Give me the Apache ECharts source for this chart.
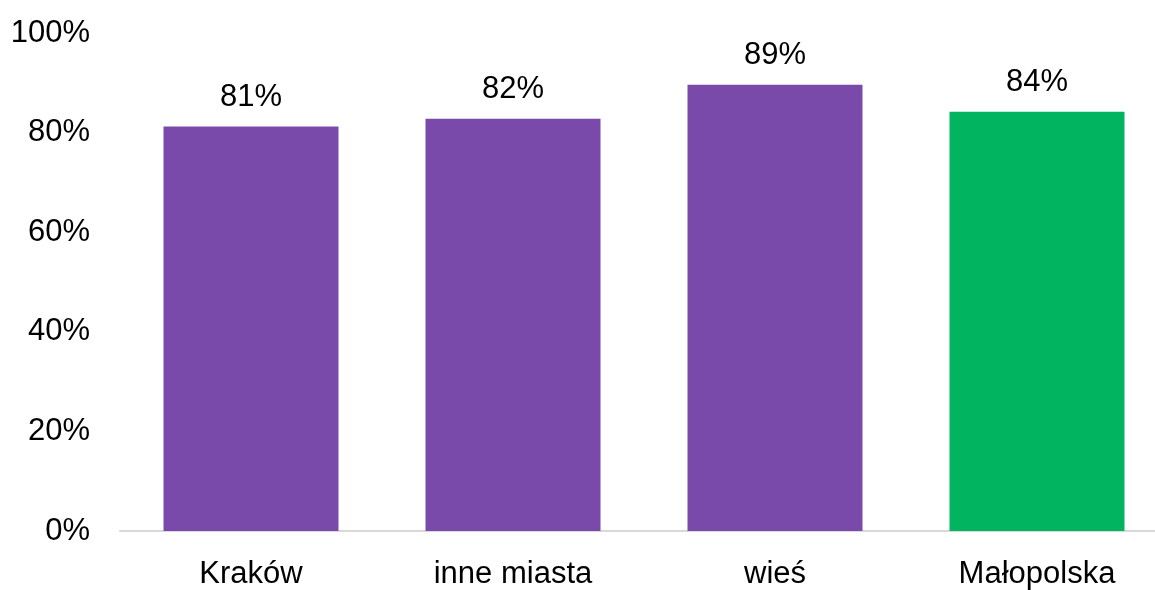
<!DOCTYPE html>
<html>
<head>
<meta charset="utf-8">
<script src="https://cdn.jsdelivr.net/npm/echarts@6/dist/echarts.min.js"></script>
<style>html,body{margin:0;padding:0;background:#fff;overflow:hidden;width:1155px;height:590px}#c{width:1168px;height:590px}</style>
</head>
<body>
<div id="c"></div>
<script>
const categories = ['Kraków', 'inne miasta', 'wieś', 'Małopolska'];
const values = [81.2, 82.8, 89.6, 84.2];
const valueLabels = ['81%', '82%', '89%', '84%'];
const barColors = ['#7A4AAA', '#7A4AAA', '#7A4AAA', '#00B460'];
const yTicks = [0, 20, 40, 60, 80, 100];

const chart = echarts.init(document.getElementById('c'), null, {renderer: 'canvas'});
const font = '"Liberation Sans", Arial, sans-serif';
chart.setOption({
  animation: false,
  backgroundColor: '#fff',
  grid: {left: 120, top: 33, bottom: 57, right: 0, containLabel: false},
  xAxis: {
    type: 'category',
    data: categories,
    axisLine: {show: true, lineStyle: {color: '#D9D9D9', width: 2}},
    axisTick: {show: false},
    axisLabel: {color: '#000', fontFamily: font, fontSize: 31, margin: 28}
  },
  yAxis: {
    type: 'value',
    min: 0, max: 100, interval: 20,
    splitLine: {show: false},
    axisLine: {show: false},
    axisTick: {show: false},
    axisLabel: {
      color: '#000', fontFamily: font, fontSize: 31, margin: 30,
      padding: [5, 0, 0, 0],
      formatter: v => yTicks.includes(v) ? v + '%' : ''
    }
  },
  series: [{
    type: 'bar',
    data: values.map((v, i) => ({value: v, itemStyle: {color: barColors[i]}})),
    barWidth: 175,
    label: {
      show: true, position: 'top', distance: 14,
      color: '#000', fontFamily: font, fontSize: 31,
      formatter: p => valueLabels[p.dataIndex]
    }
  }]
});
</script>
</body>
</html>
